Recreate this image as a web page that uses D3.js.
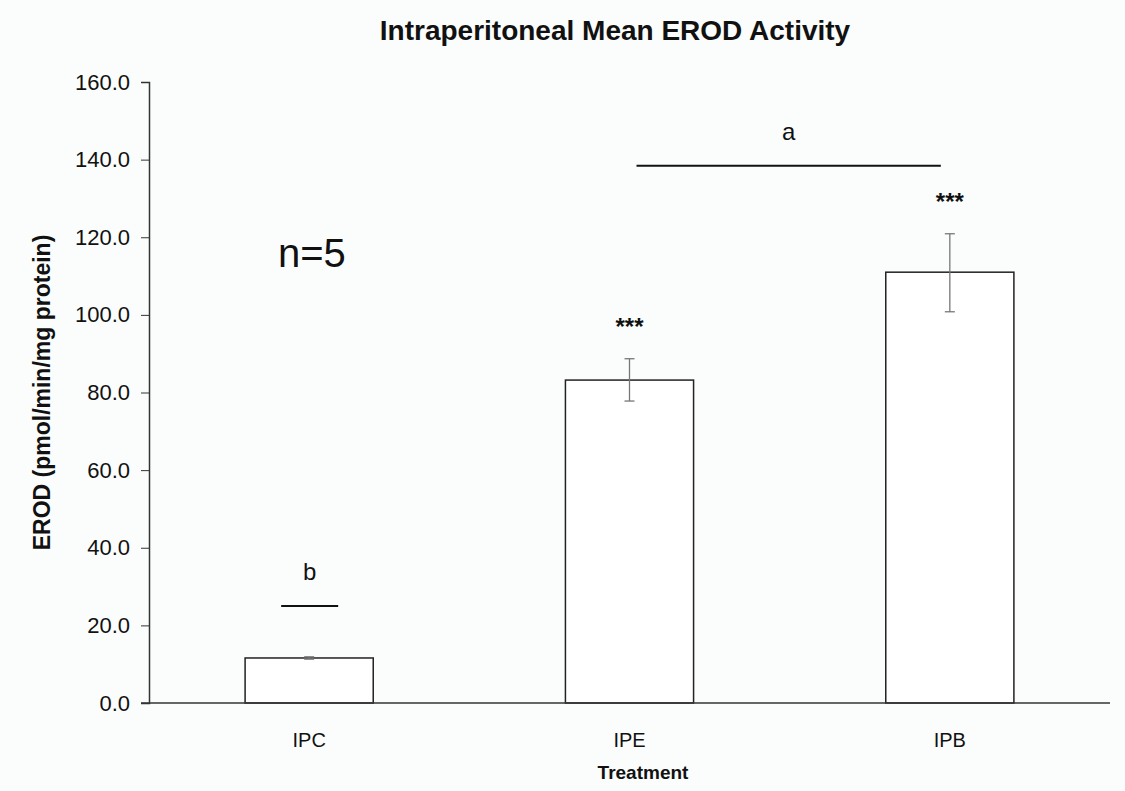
<!DOCTYPE html>
<html>
<head>
<meta charset="utf-8">
<script src="https://cdn.jsdelivr.net/npm/d3@7"></script>
<style>
  body { margin: 0; background: #fbfdfd; }
  text { font-family: "Liberation Sans", Arial, sans-serif; fill: #111; }
</style>
</head>
<body>
<div class="wrapper"></div>
<script>
// chart values
var treatments = ["IPC", "IPE", "IPB"];
var meanErod = [11.6, 83.2, 111.0];
var errLow = [11.3, 77.8, 100.8];
var errHigh = [11.9, 88.7, 120.9];
var starLabels = ["", "***", "***"];
var yTicks = [0, 20, 40, 60, 80, 100, 120, 140, 160];

// significance groups: label, first and last treatment, line height
var groupLabels = ["b", "a"];
var groupFrom = ["IPC", "IPE"];
var groupTo = ["IPC", "IPB"];
var groupLevel = [25, 138.4];

var width = 1125, height = 791;
var plotLeft = 149, plotRight = 1110, plotTop = 82, plotBottom = 703;

var svg = d3.select(".wrapper").append("svg")
    .attr("width", width)
    .attr("height", height);

var x = d3.scaleBand()
    .domain(treatments)
    .range([plotLeft, plotRight])
    .paddingInner(0.6)
    .paddingOuter(0.3);

var y = d3.scaleLinear()
    .domain([0, 160])
    .range([plotBottom, plotTop]);

// bars
svg.selectAll("rect.bar")
    .data(treatments)
    .enter().append("rect")
    .attr("class", "bar")
    .attr("x", function(d) { return x(d); })
    .attr("y", function(d, i) { return y(meanErod[i]); })
    .attr("width", x.bandwidth())
    .attr("height", function(d, i) { return y(0) - y(meanErod[i]); })
    .style("fill", "#fff")
    .style("stroke", "#222")
    .style("stroke-width", 1.5);

// error bars
var eb = svg.selectAll("g.err")
    .data(treatments)
    .enter().append("g")
    .attr("class", "err")
    .style("stroke", "#777")
    .style("stroke-width", 1.3);
eb.append("line")
    .attr("x1", function(d) { return x(d) + x.bandwidth() / 2; })
    .attr("x2", function(d) { return x(d) + x.bandwidth() / 2; })
    .attr("y1", function(d, i) { return y(errLow[i]); })
    .attr("y2", function(d, i) { return y(errHigh[i]); });
[errLow, errHigh].forEach(function(arr) {
    eb.append("line")
        .attr("x1", function(d) { return x(d) + x.bandwidth() / 2 - 5; })
        .attr("x2", function(d) { return x(d) + x.bandwidth() / 2 + 5; })
        .attr("y1", function(d, i) { return y(arr[i]); })
        .attr("y2", function(d, i) { return y(arr[i]); });
});

// stars
svg.selectAll("text.star")
    .data(treatments)
    .enter().append("text")
    .attr("class", "star")
    .attr("x", function(d) { return x(d) + x.bandwidth() / 2; })
    .attr("y", function(d, i) { return y(errHigh[i]) - 24; })
    .attr("text-anchor", "middle")
    .style("font-size", "24px")
    .style("font-weight", "bold")
    .text(function(d, i) { return starLabels[i]; });

// group lines
groupLabels.forEach(function(g, i) {
    var x1, x2;
    if (groupFrom[i] === groupTo[i]) {
        var c = x(groupFrom[i]) + x.bandwidth() / 2;
        x1 = c - 28; x2 = c + 29;
    } else {
        x1 = x(groupFrom[i]) + x.bandwidth() / 2 + 7;
        x2 = x(groupTo[i]) + x.bandwidth() / 2 - 9;
    }
    svg.append("line")
        .attr("x1", x1).attr("x2", x2)
        .attr("y1", y(groupLevel[i])).attr("y2", y(groupLevel[i]))
        .style("stroke", "#111")
        .style("stroke-width", 2);
    svg.append("text")
        .attr("x", (x1 + x2) / 2)
        .attr("y", y(groupLevel[i]) - 26)
        .attr("text-anchor", "middle")
        .style("font-size", "24px")
        .text(g);
});

// axes
var yAxis = d3.axisLeft(y)
    .tickValues(yTicks)
    .tickSize(8)
    .tickPadding(11)
    .tickFormat(d3.format(".1f"));
var ya = svg.append("g")
    .attr("transform", "translate(" + plotLeft + ",0)")
    .call(yAxis);
ya.selectAll("text").style("font-size", "22px");
ya.select(".domain").style("stroke", "#333").style("stroke-width", 1.5);
ya.selectAll(".tick line").style("stroke", "#333");

var xAxis = d3.axisBottom(x).tickSize(0).tickPadding(30);
var xa = svg.append("g")
    .attr("transform", "translate(0," + plotBottom + ")")
    .call(xAxis);
xa.selectAll("text").style("font-size", "20px");
xa.select(".domain").attr("d", "M" + (plotLeft - 8) + ",0H" + plotRight)
    .style("stroke", "#333").style("stroke-width", 1.5);

// titles
svg.append("text")
    .attr("x", 615).attr("y", 40)
    .attr("text-anchor", "middle")
    .style("font-size", "28px")
    .style("font-weight", "bold")
    .text("Intraperitoneal Mean EROD Activity");

svg.append("text")
    .attr("x", 643).attr("y", 779)
    .attr("text-anchor", "middle")
    .style("font-size", "19px")
    .style("font-weight", "bold")
    .text("Treatment");

svg.append("text")
    .attr("transform", "translate(50," + ((plotTop + plotBottom) / 2) + ") rotate(-90)")
    .attr("text-anchor", "middle")
    .style("font-size", "23px")
    .style("font-weight", "bold")
    .text("EROD (pmol/min/mg protein)");

svg.append("text")
    .attr("x", 278).attr("y", 267)
    .style("font-size", "40px")
    .text("n=5");
</script>
</body>
</html>
